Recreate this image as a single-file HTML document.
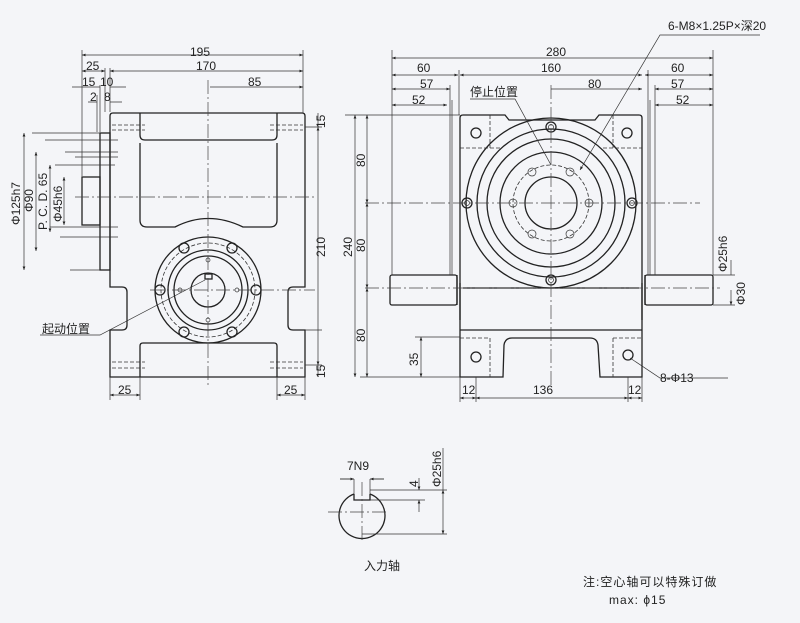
<!DOCTYPE html>
<html><head><meta charset="utf-8"><style>
html,body{margin:0;padding:0;background:#f4f5f8;}
svg{display:block}
text{font-family:"Liberation Sans","Noto Sans CJK SC",sans-serif;fill:#222;font-size:12px}
.l{stroke:#222;stroke-width:1.3;fill:none}
.t{stroke:#333;stroke-width:0.7;fill:none}
.c{stroke:#444;stroke-width:0.7;fill:none;stroke-dasharray:14 3 2 3}
.d{stroke:#333;stroke-width:0.8;fill:none;stroke-dasharray:4 2}
</style></head><body>
<svg width="800" height="623" viewBox="0 0 800 623" xmlns="http://www.w3.org/2000/svg">
<defs><marker id="a" viewBox="0 0 10 10" refX="10" refY="5" markerWidth="7" markerHeight="5" orient="auto-start-reverse"><path d="M0,1 L10,5 L0,9z" fill="#222"/></marker></defs>

<!-- ===== LEFT VIEW ===== -->
<g class="l">
<path d="M110,116 Q110,113 113,113 L302,113 Q305,113 305,116 L305,287 L293,287 Q288,287 288,292 L288,325 Q288,330 293,330 L305,330 L305,377 L110,377 L110,330 L122,330 Q127,330 127,325 L127,292 Q127,287 122,287 L110,287 Z"/>
<path d="M140,113 L140,135 Q140,140 145,140 L272,140 Q277,140 277,135 L277,113"/>
<path d="M140,143 L140,220 Q140,227 147,227 L175,227 Q208,210 243,227 L270,227 Q277,227 277,220 L277,143"/>
<path d="M140,377 L140,346 Q140,343 143,343 L274,343 Q277,343 277,346 L277,377"/>
<rect x="100" y="133" width="10" height="137"/>
<rect x="82" y="177" width="18" height="48"/>
<circle cx="208" cy="290" r="53"/><circle cx="208" cy="290" r="40"/><circle cx="208" cy="290" r="34"/><circle cx="208" cy="290" r="17"/>
<rect x="205" y="274" width="7" height="5"/>
</g>
<circle cx="208" cy="290" r="47" class="d"/>
<g class="l">
<circle cx="184" cy="248" r="5"/><circle cx="232" cy="248" r="5"/><circle cx="160" cy="290" r="5"/><circle cx="256" cy="290" r="5"/><circle cx="184" cy="332" r="5"/><circle cx="232" cy="332" r="5"/>
</g>
<g class="t">
<circle cx="208" cy="260" r="2"/><circle cx="208" cy="320" r="2"/><circle cx="180" cy="290" r="2"/><circle cx="237" cy="290" r="2"/>
</g>
<g class="d"><path d="M112,125H145M112,130H145M270,125H303M270,130H303M112,362H145M112,368H145M270,362H303M270,368H303"/></g>
<path class="c" d="M208,80V385M75,197H315M150,290H315"/>
<!-- left dims -->
<g class="t">
<path d="M82,50V176M105,68V112M110,68V112M100,85V132M97,95V132M75,157H118M65,152H118M55,165H115M45,140H118M32,133H100M50,227H118M60,237H118M70,270H100"/>
<path d="M82,55H303" marker-start="url(#a)" marker-end="url(#a)"/>
<path d="M82,71H105" marker-start="url(#a)" marker-end="url(#a)"/>
<path d="M110,71H303" marker-start="url(#a)" marker-end="url(#a)"/>
<path d="M210,87H303" marker-end="url(#a)"/>
<path d="M72,87H100M110,87H126"/>
<path d="M88,102H97M110,102H122"/>
<path d="M303,50V113"/>
<path d="M24,133V270" marker-start="url(#a)" marker-end="url(#a)"/>
<path d="M36,152V251" marker-start="url(#a)" marker-end="url(#a)"/>
<path d="M50,165V232" marker-start="url(#a)" marker-end="url(#a)"/>
<path d="M64,177V225" marker-start="url(#a)" marker-end="url(#a)"/>
<path d="M305,127H322M305,330H322M305,365H322"/>
<path d="M318,127V365" marker-start="url(#a)" marker-end="url(#a)"/>
<path d="M318,113V127M318,365V377"/>
<path d="M110,377V400M140,377V400M277,377V400M305,377V400"/>
<path d="M110,395H140" marker-start="url(#a)" marker-end="url(#a)"/>
<path d="M277,395H305" marker-start="url(#a)" marker-end="url(#a)"/>
<path d="M40,335H100L205,280"/>
</g>
<text x="190" y="56" font-size="12">195</text>
<text x="86" y="70">25</text><text x="196" y="70">170</text><text x="248" y="86">85</text>
<text x="82" y="86">15</text><text x="100" y="86">10</text>
<text x="90" y="101">2</text><text x="104" y="101">8</text>
<text transform="translate(20,225) rotate(-90)">Φ125h7</text>
<text transform="translate(33,212) rotate(-90)">Φ90</text>
<text transform="translate(47,230) rotate(-90)">P. C. D. 65</text>
<text transform="translate(62,222) rotate(-90)">Φ45h6</text>
<text transform="translate(325,128) rotate(-90)">15</text>
<text transform="translate(325,257) rotate(-90)">210</text>
<text transform="translate(325,378) rotate(-90)">15</text>
<text x="118" y="394">25</text><text x="284" y="394">25</text>
<text x="42" y="333">起动位置</text>

<!-- ===== RIGHT VIEW ===== -->
<g class="l">
<path d="M460,118 Q460,115 463,115 L505,115 L509,120 L595,120 L599,115 L639,115 Q642,115 642,118 L642,377 L600,377 L598,345 Q597,338 590,338 L512,338 Q505,338 504,345 L503,377 L460,377 Z"/>
<path d="M463,288H639M460,330H642"/>
<path d="M460,283V320M642,283V320"/>
<rect x="390" y="275" width="67" height="30" rx="2"/>
<rect x="645" y="275" width="68" height="30" rx="2"/>
<path d="M457,275V305M645,275V305"/>
<circle cx="551" cy="203" r="85"/><circle cx="551" cy="203" r="74"/><circle cx="551" cy="203" r="64"/><circle cx="551" cy="203" r="51"/><circle cx="551" cy="203" r="26"/>
<circle cx="551" cy="127" r="5"/><circle cx="551" cy="280" r="5"/><circle cx="467" cy="203" r="5"/><circle cx="632" cy="203" r="5"/>
<circle cx="476" cy="133" r="5"/><circle cx="627" cy="133" r="5"/><circle cx="476" cy="357" r="5"/><circle cx="628" cy="355" r="5"/>
</g>
<g class="t">
<circle cx="551" cy="127" r="2.5"/><circle cx="551" cy="280" r="2.5"/><circle cx="467" cy="203" r="2.5"/><circle cx="632" cy="203" r="2.5"/>
<circle cx="532" cy="172" r="4"/><circle cx="570" cy="172" r="4"/><circle cx="513" cy="203" r="4"/><circle cx="589" cy="203" r="4"/><circle cx="532" cy="234" r="4"/><circle cx="570" cy="234" r="4"/>
</g>
<circle cx="551" cy="203" r="38" class="d"/>
<g class="d"><path d="M490,115V148M460,148H500M613,115V148M603,148H642M490,338V377M460,338H490M613,338V377M613,338H642"/></g>
<path class="c" d="M551,85V385M365,203H700M365,288H720"/>
<!-- right dims -->
<g class="t">
<path d="M392,50V275M459,70V115M713,50V275M648,70V275M450,85V275M452,100V275M655,85V275M650,100V275"/>
<path d="M392,58H713" marker-start="url(#a)" marker-end="url(#a)"/>
<path d="M392,75H458" marker-start="url(#a)" marker-end="url(#a)"/>
<path d="M460,75H642" marker-start="url(#a)" marker-end="url(#a)"/>
<path d="M645,75H713" marker-start="url(#a)" marker-end="url(#a)"/>
<path d="M392,89H450" marker-start="url(#a)" marker-end="url(#a)"/>
<path d="M551,89H642" marker-end="url(#a)"/>
<path d="M655,89H713" marker-start="url(#a)" marker-end="url(#a)"/>
<path d="M392,105H447" marker-start="url(#a)" marker-end="url(#a)"/>
<path d="M655,105H713" marker-start="url(#a)" marker-end="url(#a)"/>
<path d="M345,115H460M360,377H460M415,337H460M713,275H735M713,305H735"/>
<path d="M355,115V377" marker-start="url(#a)" marker-end="url(#a)"/>
<path d="M367,115V203" marker-start="url(#a)" marker-end="url(#a)"/>
<path d="M367,203V288" marker-start="url(#a)" marker-end="url(#a)"/>
<path d="M367,288V377" marker-start="url(#a)" marker-end="url(#a)"/>
<path d="M421,337V377" marker-start="url(#a)" marker-end="url(#a)"/>
<path d="M731,290V305" marker-end="url(#a)"/>
<path d="M731,275V260" />
<path d="M460,377V402M476,377V402M628,377V402M642,377V402"/>
<path d="M460,398H476" marker-start="url(#a)" marker-end="url(#a)"/>
<path d="M476,398H628" marker-start="url(#a)" marker-end="url(#a)"/>
<path d="M628,398H642" marker-start="url(#a)" marker-end="url(#a)"/>
<path d="M470,99H515L551,165"/>
<path d="M760,35H660L580,170" marker-end="url(#a)"/>
<path d="M728,378H660L630,358"/>
</g>
<text x="546" y="56">280</text>
<text x="417" y="72">60</text><text x="541" y="72">160</text><text x="671" y="72">60</text>
<text x="420" y="88">57</text><text x="588" y="88">80</text><text x="671" y="88">57</text>
<text x="412" y="104">52</text><text x="676" y="104">52</text>
<text x="470" y="96">停止位置</text>
<text x="668" y="30">6-M8×1.25P×深20</text>
<text transform="translate(352,257) rotate(-90)">240</text>
<text transform="translate(365,167) rotate(-90)">80</text>
<text transform="translate(365,252) rotate(-90)">80</text>
<text transform="translate(365,342) rotate(-90)">80</text>
<text transform="translate(418,366) rotate(-90)">35</text>
<text transform="translate(727,272) rotate(-90)">Φ25h6</text>
<text transform="translate(745,305) rotate(-90)">Φ30</text>
<text x="462" y="394">12</text><text x="533" y="394">136</text><text x="628" y="394">12</text>
<text x="660" y="382">8-Φ13</text>

<!-- ===== SECTION ===== -->
<g class="l"><path d="M354,494 A23,23 0 1 0 370,494"/><path d="M354,494V500H370V494"/></g>
<path class="c" d="M328,512H386M362,482V540"/>
<g class="t">
<path d="M340,479H352M372,479H384" /><path d="M340,479H354" marker-end="url(#a)"/><path d="M384,479H370" marker-end="url(#a)"/>
<path d="M354,479V494M370,479V494"/>
<path d="M370,490H447M370,500H425M362,534H447"/>
<path d="M419,478V490" marker-end="url(#a)"/><path d="M419,512V500" marker-end="url(#a)"/>
<path d="M443,490V534" marker-start="url(#a)" marker-end="url(#a)"/><path d="M443,448V490"/>
</g>
<text x="347" y="470" font-size="11">7N9</text>
<text transform="translate(418,487) rotate(-90)" font-size="11">4</text>
<text transform="translate(441,487) rotate(-90)" font-size="10">Φ25h6</text>
<text x="364" y="570" font-size="13">入力轴</text>
<text x="583" y="586" font-size="14" letter-spacing="1">注:空心轴可以特殊订做</text>
<text x="609" y="604" font-size="14" letter-spacing="1">max: ϕ15</text>
</svg>
</body></html>
